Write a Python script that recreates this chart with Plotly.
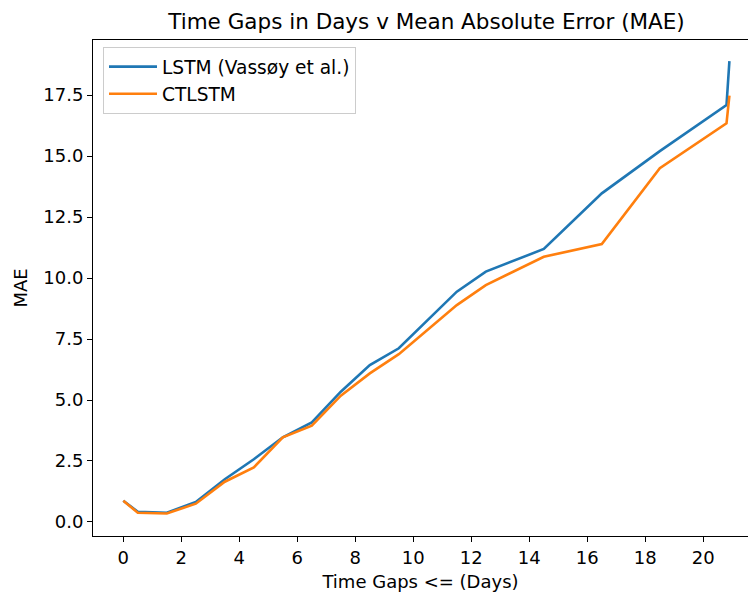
import plotly.graph_objects as go

# Data
gap_days = [0, 0.5, 1.5, 2.5, 3.5, 4.5, 5.5, 6.5, 7.5, 8.5, 9.5, 10.5, 11.5,
            12.5, 14.5, 16.5, 18.5, 20.8, 20.9]
lstm_mae = [0.87, 0.42, 0.38, 0.82, 1.75, 2.57, 3.47, 4.08, 5.34, 6.43, 7.12,
            8.28, 9.44, 10.26, 11.19, 13.47, 15.2, 17.09, 18.89]
ctlstm_mae = [0.87, 0.38, 0.35, 0.75, 1.65, 2.24, 3.47, 3.95, 5.18, 6.09, 6.88,
              7.9, 8.89, 9.71, 10.87, 11.39, 14.5, 16.34, 17.47]

series_names = ["LSTM (Vassøy et al.)", "CTLSTM"]
series_colors = ["#1f77b4", "#ff7f0e"]

title_text = "Time Gaps in Days v Mean Absolute Error (MAE)"
x_title = "Time Gaps <= (Days)"
y_title = "MAE"

FONT = "DejaVu Sans"

fig = go.Figure()
for name, vals, col in zip(series_names, [lstm_mae, ctlstm_mae], series_colors):
    fig.add_trace(go.Scatter(x=gap_days, y=vals, mode="lines", name=name,
                             line=dict(color=col, width=2.6)))

W, H = 748, 597
ml, mr, mt, mb = 93, 0, 40, 61

fig.update_layout(
    width=W, height=H,
    margin=dict(l=ml, r=mr, t=mt, b=mb, pad=0),
    paper_bgcolor="white", plot_bgcolor="white",
    font=dict(family=FONT, size=18, color="black"),
    title=dict(text=title_text, font=dict(family=FONT, size=21.5, color="black"),
               x=(426.5 - ml) / (W - ml - mr), xref="paper", xanchor="center",
               y=1 - 21 / H, yref="container", yanchor="middle"),
    showlegend=True,
    legend=dict(x=(103 - ml) / (W - ml - mr), y=(H - mb - 47) / (H - mt - mb),
                xanchor="left", yanchor="top", itemwidth=48,
                bgcolor="white", bordercolor="#cccccc", borderwidth=1,
                font=dict(family=FONT, size=18.6, color="black")),
    xaxis=dict(range=[-1.045, 21.541], dtick=2, tick0=0,
               showgrid=False, zeroline=False,
               showline=True, linecolor="black", linewidth=1.1, mirror=True,
               ticks="outside", ticklen=5, tickwidth=1.1, tickcolor="black",
               tickfont=dict(family=FONT, size=18, color="black"),
               title=dict(text=x_title, font=dict(family=FONT, size=18, color="black"),
                          standoff=8)),
    yaxis=dict(range=[-0.574, 19.754], dtick=2.5, tick0=0, tickformat=".1f",
               showgrid=False, zeroline=False,
               showline=True, linecolor="black", linewidth=1.1, mirror=False,
               ticks="outside", ticklen=5, tickwidth=1.1, tickcolor="black",
               tickfont=dict(family=FONT, size=18, color="black"),
               title=dict(text=y_title, font=dict(family=FONT, size=18, color="black"),
                          standoff=10)),
)

fig.write_html("out.html")
